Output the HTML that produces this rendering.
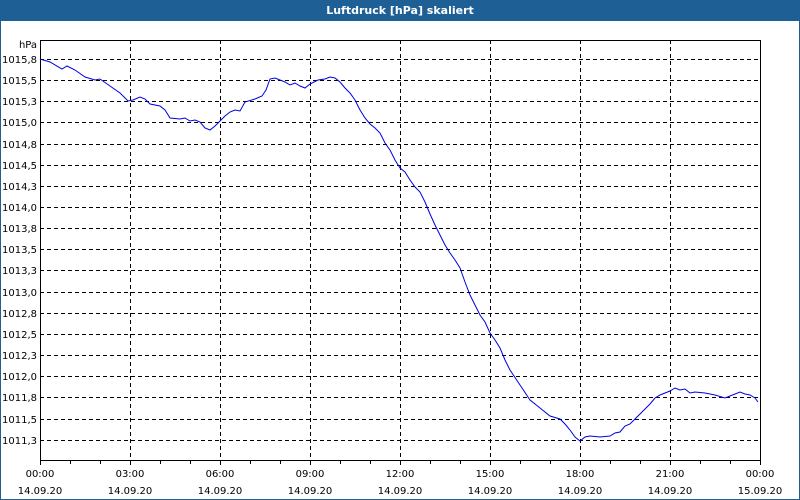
<!DOCTYPE html>
<html><head><meta charset="utf-8"><style>
body{margin:0;background:#fff}
svg{display:block;font-family:"DejaVu Sans","Liberation Sans",sans-serif}
</style></head><body>
<svg width="800" height="500" viewBox="0 0 800 500" xmlns="http://www.w3.org/2000/svg">
<rect x="0" y="0" width="800" height="500" fill="#fff"/>
<rect x="0" y="0" width="800" height="21" fill="#1e5f96"/>
<rect x="0.5" y="0.5" width="799" height="499" fill="none" stroke="#1e5f96"/>
<text x="400" y="14" fill="#fff" font-size="11" font-weight="bold" text-anchor="middle">Luftdruck [hPa] skaliert</text>
<g stroke="#000" stroke-dasharray="4,3" stroke-width="1">
<path d="M130.5 40V460M220.5 40V460M310.5 40V460M400.5 40V460M490.5 40V460M580.5 40V460M670.5 40V460"/>
<path d="M40 59.5H760M40 80.5H760M40 101.5H760M40 122.5H760M40 144.5H760M40 165.5H760M40 186.5H760M40 207.5H760M40 228.5H760M40 249.5H760M40 270.5H760M40 292.5H760M40 313.5H760M40 334.5H760M40 355.5H760M40 376.5H760M40 397.5H760M40 419.5H760M40 440.5H760"/>
</g>
<rect x="40.5" y="40.5" width="720" height="420" fill="none" stroke="#000"/>
<g stroke="#000"><path d="M40.5 460V465M70.5 460V464M100.5 460V464M130.5 460V465M160.5 460V464M190.5 460V464M220.5 460V465M250.5 460V464M280.5 460V464M310.5 460V465M340.5 460V464M370.5 460V464M400.5 460V465M430.5 460V464M460.5 460V464M490.5 460V465M520.5 460V464M550.5 460V464M580.5 460V465M610.5 460V464M640.5 460V464M670.5 460V465M700.5 460V464M730.5 460V464M760.5 460V465"/></g>
<g font-size="10" fill="#000" text-anchor="end">
<text x="37" y="48">hPa</text>
<text x="37" y="63">1015,8</text><text x="37" y="84">1015,5</text><text x="37" y="105">1015,3</text><text x="37" y="126">1015,0</text><text x="37" y="148">1014,8</text><text x="37" y="169">1014,5</text><text x="37" y="190">1014,3</text><text x="37" y="211">1014,0</text><text x="37" y="232">1013,8</text><text x="37" y="253">1013,5</text><text x="37" y="274">1013,3</text><text x="37" y="296">1013,0</text><text x="37" y="317">1012,8</text><text x="37" y="338">1012,5</text><text x="37" y="359">1012,3</text><text x="37" y="380">1012,0</text><text x="37" y="401">1011,8</text><text x="37" y="423">1011,5</text><text x="37" y="444">1011,3</text>
</g>
<g font-size="10" fill="#000" text-anchor="middle">
<text x="40" y="477">00:00</text><text x="40" y="494">14.09.20</text>
<text x="130" y="477">03:00</text><text x="130" y="494">14.09.20</text>
<text x="220" y="477">06:00</text><text x="220" y="494">14.09.20</text>
<text x="310" y="477">09:00</text><text x="310" y="494">14.09.20</text>
<text x="400" y="477">12:00</text><text x="400" y="494">14.09.20</text>
<text x="490" y="477">15:00</text><text x="490" y="494">14.09.20</text>
<text x="580" y="477">18:00</text><text x="580" y="494">14.09.20</text>
<text x="670" y="477">21:00</text><text x="670" y="494">14.09.20</text>
<text x="760" y="477">00:00</text><text x="760" y="494">15.09.20</text>
</g>
<polyline fill="none" stroke="#0000e0" stroke-width="1" points="40,59 50,62 62,69 67,66 75,70 85,77 95,80 100,79 110,86 120,93 128,101 133,100 140,97 145,99 150,104 160,106 165,110 170,118 180,119 185,118 190,121 195,120 200,122 205,128 210,130 215,126 225,116 230,112 235,110 240,111 245,102 255,99 262,96 266,90 270,79 275,78 285,82 290,85 295,83 300,86 305,88 310,84 318,80 325,79 330,77 335,78 340,82 345,88 350,93 355,100 360,110 365,118 370,124 375,128 380,133 385,143 390,150 395,160 400,168 405,172 410,180 415,187 420,192 425,202 430,214 435,225 440,235 445,245 450,253 455,260 460,268 465,282 470,295 475,305 480,315 485,322 490,333 495,340 500,348 505,360 510,370 520,385 530,400 540,408 550,416 560,419 565,424 570,430 575,437 580,441 585,437 590,436 600,437 610,436 615,433 620,432 625,426 630,424 640,414 650,404 655,398 660,395 670,391 675,388 680,390 685,389 690,393 695,392 705,393 715,395 725,398 730,396 740,392 745,394 750,395 755,398 758,402"/>
</svg>
</body></html>
